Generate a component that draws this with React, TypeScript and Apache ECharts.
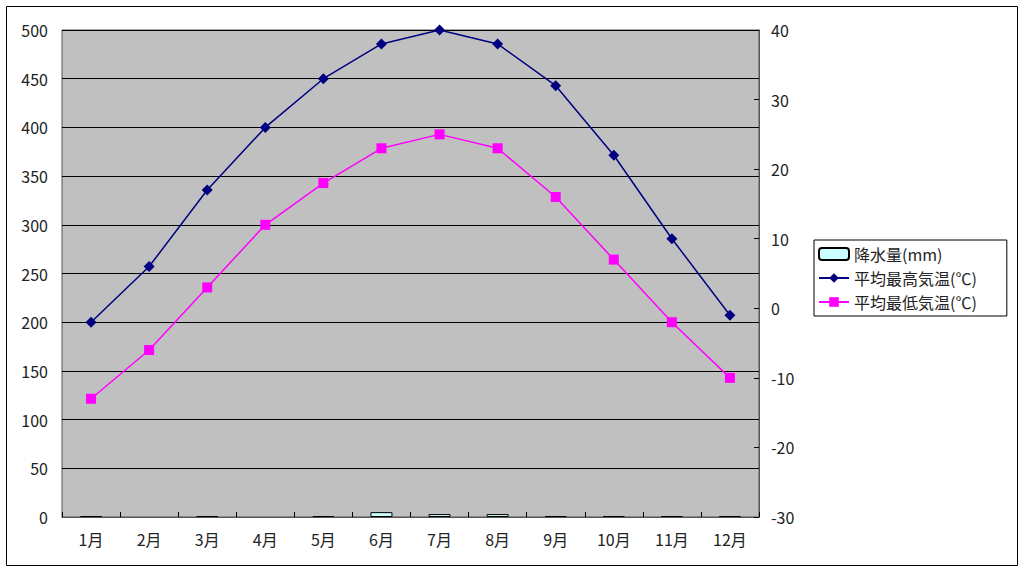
import React, { useEffect, useRef } from "react";
import * as echarts from "echarts";

const months = ["1月", "2月", "3月", "4月", "5月", "6月", "7月", "8月", "9月", "10月", "11月", "12月"];
const precipitation = [1, 0, 1, 0, 1, 5, 3, 3, 1, 1, 1, 1];
const maxTemp = [-2, 6, 17, 26, 33, 38, 40, 38, 32, 22, 10, -1];
const minTemp = [-13, -6, 3, 12, 18, 23, 25, 23, 16, 7, -2, -10];

const FONT = "'Noto Sans CJK JP', 'Noto Sans', sans-serif";

export default function App() {
  const ref = useRef<HTMLDivElement>(null);
  useEffect(() => {
    document.body.style.margin = "0";
    const chart = echarts.init(ref.current!, null, { renderer: "svg" });
    chart.setOption({
      animation: false,
      backgroundColor: "#ffffff",
      textStyle: { fontFamily: FONT },
      graphic: [
        {
          type: "rect",
          shape: { x: 6.5, y: 6.5, width: 1011, height: 559 },
          style: { fill: "none", stroke: "#000", lineWidth: 1 },
          z: -1,
        },
      ],
      grid: {
        left: 62,
        top: 30,
        right: 265,
        bottom: 55,
        show: true,
        backgroundColor: "#c0c0c0",
        borderColor: "#555",
        borderWidth: 1,
      },
      legend: {
        orient: "vertical",
        left: 814,
        top: 240,
        itemGap: 4,
        itemWidth: 30,
        itemHeight: 12,
        padding: [4, 30, 4, 4],
        borderColor: "#000",
        borderWidth: 1,
        textStyle: { fontSize: 16, lineHeight: 20, color: "#222", fontFamily: FONT },
        data: ["降水量(mm)", "平均最高気温(℃)", "平均最低気温(℃)"],
      },
      xAxis: {
        type: "category",
        data: months,
        boundaryGap: true,
        axisLine: { show: true, lineStyle: { color: "#555" } },
        axisTick: { show: true, inside: true, length: 5, lineStyle: { color: "#000" } },
        axisLabel: { fontSize: 16, color: "#222", margin: 14, fontFamily: FONT },
      },
      yAxis: [
        {
          type: "value",
          min: 0,
          max: 500,
          interval: 50,
          axisLine: { show: false },
          axisTick: { show: false },
          splitLine: { show: true, lineStyle: { color: "#000", width: 1 } },
          axisLabel: { fontSize: 16, color: "#222", margin: 14, fontFamily: FONT },
        },
        {
          type: "value",
          min: -30,
          max: 40,
          interval: 10,
          position: "right",
          axisLine: { show: true, lineStyle: { color: "#555" } },
          axisTick: { show: true, inside: true, length: 5, lineStyle: { color: "#000" } },
          splitLine: { show: false },
          axisLabel: { fontSize: 16, color: "#222", margin: 12, fontFamily: FONT },
        },
      ],
      series: [
        {
          name: "降水量(mm)",
          type: "bar",
          yAxisIndex: 0,
          data: precipitation.map((v) => (v === 0 ? "-" : v)),
          barWidth: 22,
          itemStyle: { color: "#ccffff", borderColor: "#000", borderWidth: 1 },
        },
        {
          name: "平均最高気温(℃)",
          type: "line",
          yAxisIndex: 1,
          data: maxTemp,
          symbol: "diamond",
          symbolSize: 11,
          color: "#000080",
          lineStyle: { color: "#000080", width: 1.5 },
          itemStyle: { color: "#000080" },
        },
        {
          name: "平均最低気温(℃)",
          type: "line",
          yAxisIndex: 1,
          data: minTemp,
          symbol: "rect",
          symbolSize: 10,
          color: "#ff00ff",
          lineStyle: { color: "#ff00ff", width: 1.5 },
          itemStyle: { color: "#ff00ff" },
        },
      ],
    });
    return () => chart.dispose();
  }, []);
  return <div ref={ref} style={{ width: 1024, height: 572 }} />;
}
